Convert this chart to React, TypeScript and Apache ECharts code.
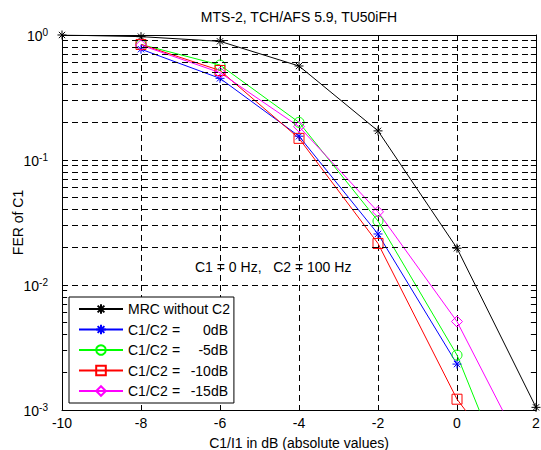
import React, { useEffect, useRef } from "react";
import * as echarts from "echarts";

// ---- data ----
const titleText = "MTS-2, TCH/AFS 5.9, TU50iFH";
const xAxisName = "C1/I1 in dB (absolute values)";
const yAxisName = "FER of C1";
const annotation = "C1 = 0 Hz,   C2 = 100 Hz";

const xMin = -10;
const xMax = 2;
const xStep = 2;
const yMin = 0.001;
const yMax = 1;

const mrcX = [-10, -8, -6, -4, -2, 0, 2];
const mrcFer = [1.0, 0.97, 0.89, 0.565, 0.171, 0.0197, 0.00105];

const c0X = [-8, -6, -4, -2, 0];
const c0Fer = [0.77, 0.45, 0.155, 0.0256, 0.00233];

const c5X = [-8, -6, -4, -2, 0, 2];
const c5Fer = [0.84, 0.575, 0.2, 0.0325, 0.00275, 0.000075];

const c10X = [-8, -6, -4, -2, 0, 2];
const c10Fer = [0.84, 0.52, 0.149, 0.0215, 0.00122, 0.00018];

const c15X = [-8, -6, -4, -2, 0, 2];
const c15Fer = [0.83, 0.5, 0.185, 0.0385, 0.0051, 0.0003];

// minor log grid positions (2..9 x each decade)
const minorGrid = [
  0.002, 0.003, 0.004, 0.005, 0.006, 0.007, 0.008, 0.009,
  0.02, 0.03, 0.04, 0.05, 0.06, 0.07, 0.08, 0.09,
  0.2, 0.3, 0.4, 0.5, 0.6, 0.7, 0.8, 0.9,
];

const FONT = "'Liberation Sans', Arial, sans-serif";
const ASTERISK = "path://M5,0L5,10M0,5L10,5M1.5,1.5L8.5,8.5M1.5,8.5L8.5,1.5";
const DASH = [6, 4];

function zip(xs: number[], ys: number[]) {
  return xs.map((x, i) => [x, ys[i]]);
}

export default function App() {
  const ref = useRef<HTMLDivElement>(null);

  useEffect(() => {
    if (!ref.current) return;
    const chart = echarts.init(ref.current, undefined, { renderer: "svg" });

    const makeSeries = (
      name: string,
      data: number[][],
      color: string,
      symbol: string,
      size: number,
      star: boolean
    ) => ({
      name,
      type: "line",
      data,
      xAxisIndex: 0,
      yAxisIndex: 0,
      symbol,
      symbolSize: size,
      showSymbol: true,
      lineStyle: { color, width: 1 },
      itemStyle: star
        ? { color: color, borderColor: color, borderWidth: 1 }
        : { color: "transparent", borderColor: color, borderWidth: 1 },
      emphasis: { disabled: true },
      z: 3,
    });

    const minorTickData: any[] = [];
    minorGrid.forEach((v) => {
      minorTickData.push([{ coord: [xMin, v] }, { coord: [xMin + 0.13, v] }]);
      minorTickData.push([{ coord: [xMax - 0.13, v] }, { coord: [xMax, v] }]);
    });

    chart.setOption({
      animation: false,
      backgroundColor: "#fff",
      textStyle: { fontFamily: FONT },
      grid: { left: 62, right: 5, top: 35, bottom: 40, outerBoundsMode: "none", containLabel: false },
      xAxis: [
        {
          type: "value",
          min: xMin,
          max: xMax,
          interval: xStep,
          position: "bottom",
          name: xAxisName,
          nameLocation: "middle",
          nameGap: 26,
          nameMoveOverlap: false,
          nameTextStyle: { fontSize: 14, color: "#000", fontFamily: FONT },
          axisLine: { show: true, onZero: false, lineStyle: { color: "#000", width: 1 } },
          axisTick: { show: true, inside: true, length: 5, lineStyle: { color: "#000" } },
          axisLabel: { fontSize: 14, color: "#000", margin: 6, fontFamily: FONT },
          splitLine: { show: true, lineStyle: { color: "#000", width: 1, type: DASH } },
        },
        {
          type: "value",
          min: xMin,
          max: xMax,
          interval: xStep,
          position: "top",
          axisLine: { show: true, onZero: false, lineStyle: { color: "#000", width: 1 } },
          axisTick: { show: true, inside: true, length: 5, lineStyle: { color: "#000" } },
          axisLabel: { show: false },
          splitLine: { show: false },
        },
      ],
      yAxis: [
        {
          type: "log",
          logBase: 10,
          min: yMin,
          max: yMax,
          position: "left",
          name: yAxisName,
          nameLocation: "middle",
          nameGap: 37,
          nameMoveOverlap: false,
          nameTextStyle: { fontSize: 14, color: "#000", fontFamily: FONT },
          axisLine: { show: true, onZero: false, lineStyle: { color: "#000", width: 1 } },
          axisTick: { show: true, inside: true, length: 5, lineStyle: { color: "#000" } },
          axisLabel: {
            margin: 14,
            formatter: (v: number) => `{b|10}{s|${Math.round(Math.log10(v))}}`,
            rich: {
              b: { fontSize: 14, color: "#000", lineHeight: 16, verticalAlign: "bottom", fontFamily: FONT },
              s: { fontSize: 10, color: "#000", lineHeight: 10, verticalAlign: "top", fontFamily: FONT },
            },
            lineHeight: 22,
          },
          splitLine: { show: true, lineStyle: { color: "#000", width: 1, type: DASH } },
        },
        {
          type: "log",
          logBase: 10,
          min: yMin,
          max: yMax,
          position: "right",
          axisLine: { show: true, onZero: false, lineStyle: { color: "#000", width: 1 } },
          axisTick: { show: true, inside: true, length: 5, lineStyle: { color: "#000" } },
          axisLabel: { show: false },
          splitLine: { show: false },
        },
      ],
      legend: {
        orient: "vertical",
        left: 69,
        top: 297,
        padding: [5, 4, 5, 9],
        itemGap: 6.5,
        itemWidth: 44,
        itemHeight: 12,
        backgroundColor: "#fff",
        borderColor: "#000",
        borderWidth: 1,
        borderRadius: 0,
        z: 10,
        data: [
          "MRC without C2",
          "C1/C2 = 0dB",
          "C1/C2 = -5dB",
          "C1/C2 = -10dB",
          "C1/C2 = -15dB",
        ],
        textStyle: {
          fontSize: 14,
          lineHeight: 14,
          color: "#000",
          fontFamily: FONT,
          rich: {
            a: { fontSize: 14, lineHeight: 14, width: 44, color: "#000", fontFamily: FONT },
            b: { fontSize: 14, lineHeight: 14, width: 12, color: "#000", fontFamily: FONT },
            c: { fontSize: 14, lineHeight: 14, width: 44, align: "right", color: "#000", fontFamily: FONT },
          },
        },
        formatter: (name: string) => {
          if (name.indexOf("=") < 0) return name;
          const parts = name.split("=");
          return `{a|${parts[0].trim()}}{b|=}{c|${parts[1].trim()}}`;
        },
      },
      graphic: [
        {
          type: "text",
          x: 299,
          y: 17,
          style: {
            text: titleText,
            fontSize: 14,
            fontFamily: FONT,
            fill: "#000",
            align: "center",
            verticalAlign: "middle",
          },
          z: 10,
        },
        {
          type: "text",
          x: 195,
          y: 267,
          style: {
            text: annotation,
            fontSize: 14,
            fontFamily: FONT,
            fill: "#000",
            align: "left",
            verticalAlign: "middle",
          },
          z: 10,
        },
      ],
      series: [
        {
          name: "grid-minor",
          type: "line",
          data: [],
          xAxisIndex: 0,
          yAxisIndex: 0,
          silent: true,
          z: 1,
          markLine: {
            silent: true,
            symbol: ["none", "none"],
            label: { show: false },
            animation: false,
            lineStyle: { color: "#000", width: 1, type: DASH },
            data: minorGrid.map((v) => ({ yAxis: v })),
          },
        },
        {
          name: "ticks-minor",
          type: "line",
          data: [],
          xAxisIndex: 0,
          yAxisIndex: 0,
          silent: true,
          z: 1,
          markLine: {
            silent: true,
            symbol: ["none", "none"],
            label: { show: false },
            animation: false,
            lineStyle: { color: "#000", width: 1, type: "solid" },
            data: minorTickData,
          },
        },
        makeSeries("MRC without C2", zip(mrcX, mrcFer), "#000000", ASTERISK, 9, true),
        makeSeries("C1/C2 = 0dB", zip(c0X, c0Fer), "#0000ff", ASTERISK, 9, true),
        makeSeries("C1/C2 = -5dB", zip(c5X, c5Fer), "#00ff00", "circle", 10, false),
        makeSeries("C1/C2 = -10dB", zip(c10X, c10Fer), "#ff0000", "rect", 10, false),
        makeSeries("C1/C2 = -15dB", zip(c15X, c15Fer), "#ff00ff", "diamond", 11, false),
      ],
    });

    return () => {
      chart.dispose();
    };
  }, []);

  return (
    <div
      ref={ref}
      style={{ position: "fixed", left: 0, top: 0, width: 541, height: 450 }}
    />
  );
}
